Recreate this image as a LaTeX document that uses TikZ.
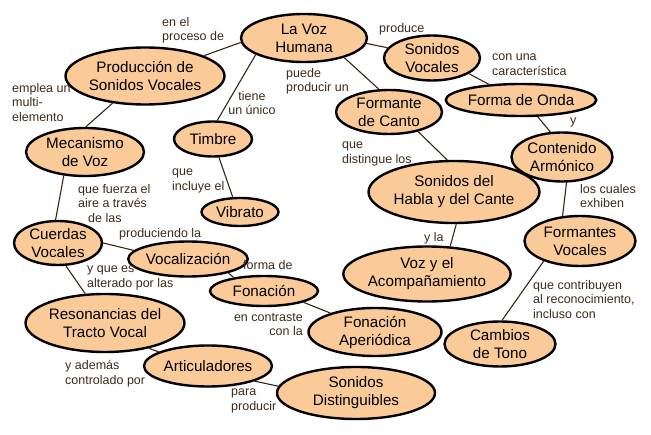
\documentclass[tikz,border=0pt]{standalone}
\usepackage{fontspec}
\setmainfont{Liberation Sans}
\usetikzlibrary{shapes.geometric}
\definecolor{cfill}{RGB}{250,202,152}
\definecolor{clink}{RGB}{55,38,22}
\definecolor{clabel}{RGB}{62,42,24}
\tikzset{
  concept/.style={ellipse, draw=black, line width=2.4pt, fill=cfill, inner sep=0pt,
    align=center, font=\fontsize{15.2}{18}\selectfont, text=black},
  lbl/.style={inner sep=0pt, text=clabel, font=\fontsize{12.5}{14.6}\selectfont,
    align=left, anchor=north west, execute at begin node=\strut, yshift=-2pt},
  link/.style={draw=clink, line width=1.1pt},
}
\begin{document}
\begin{tikzpicture}[x=1pt,y=-1pt]
\useasboundingbox (0,0) rectangle (651,435);
% concepts
\node[concept, minimum width=126pt, minimum height=48pt] (lv) at (304,38) {La Voz\\Humana};
\node[concept, minimum width=133pt, minimum height=57pt] (pr) at (145,76) {Producción de\\Sonidos Vocales};
\node[concept, minimum width=118pt, minimum height=48pt] (me) at (85,152) {Mecanismo\\de Voz};
\node[concept, minimum width=78pt, minimum height=35pt] (ti) at (213,139) {Timbre};
\node[concept, minimum width=77pt, minimum height=28pt] (vi) at (240,212) {Vibrato};
\node[concept, minimum width=96pt, minimum height=45pt] (sv) at (432,58) {Sonidos\\Vocales};
\node[concept, minimum width=106pt, minimum height=44pt] (fc) at (389,112) {Formante\\de Canto};
\node[concept, minimum width=124pt, minimum height=32pt] (fo) at (521,100) {Forma de Onda};
\node[concept, minimum width=101pt, minimum height=49pt] (ca) at (562,157) {Contenido\\Armónico};
\node[concept, minimum width=138pt, minimum height=62pt] (sh) at (454,192) {Sonidos del\\Habla y del Cante};
\node[concept, minimum width=111pt, minimum height=50pt] (fv) at (580,241) {Formantes\\Vocales};
\node[concept, minimum width=161pt, minimum height=55pt] (va) at (427,274) {Voz y el\\Acompañamiento};
\node[concept, minimum width=111pt, minimum height=45pt] (ct) at (500,344) {Cambios\\de Tono};
\node[concept, minimum width=133pt, minimum height=48pt] (fa) at (375,332) {Fonación\\Aperiódica};
\node[concept, minimum width=158pt, minimum height=52pt] (sd) at (356,393) {Sonidos\\Distinguibles};
\node[concept, minimum width=88pt, minimum height=44pt] (cv) at (58,243) {Cuerdas\\Vocales};
\node[concept, minimum width=100pt, minimum height=35pt] (vo) at (188,259) {Vocalización};
\node[concept, minimum width=108pt, minimum height=30pt] (fn) at (264,291) {Fonación};
\node[concept, minimum width=137pt, minimum height=58pt] (re) at (105,323) {Resonancias del\\Tracto Vocal};
\node[concept, minimum width=128pt, minimum height=41pt] (ar) at (208,366) {Articuladores};
% connectors
\draw[link] (lv.184.5) -- (pr.19.1);
\draw[link] (lv.199.1) -- (ti.77);
\draw[link] (lv.355.5) -- (sv.167.2);
\draw[link] (lv.334) -- (fc.114.4);
\draw[link] (pr.220.2) -- (me.88);
\draw[link] (me.228.5) -- (cv.96.8);
\draw[link] (ti.288.4) -- (vi.116.6);
\draw[link] (sv.337) -- (fo.154.1);
\draw[link] (fo.315) -- (ca.115.7);
\draw[link] (ca.280.9) -- (fv.125.8);
\draw[link] (fv.209.6) -- (ct.85.2);
\draw[link] (fc.326.7) -- (sh.102.7);
\draw[link] (sh.274.9) -- (va.50.8);
\draw[link] (cv.0) -- (vo.171.7);
\draw[link] (cv.289.8) -- (re.124.2);
\draw[link] (vo.341.6) -- (fn.156.4);
\draw[link] (fn.344.2) -- (fa.157.1);
\draw[link] (re.330.8) -- (ar.164.6);
\draw[link] (ar.342.6) -- (sd.175.7);
% linking phrases
\node[lbl] (l1) at (162,15) {en el\\proceso de};
\node[lbl] (l2) at (12,81) {emplea un\\multi-\\elemento};
\node[lbl, anchor=north, align=center] (l3) at (252,89) {tiene\\un único};
\node[lbl] (l4) at (286,66) {puede\\producir un};
\node[lbl] (l5) at (379,20) {produce};
\node[lbl] (l6) at (492,52) {con una\\característica};
\node[lbl] (l7) at (570,112) {y};
\node[lbl] (l8) at (342,140) {que\\distingue los};
\node[lbl] (l9) at (580,182) {los cuales\\exhiben};
\node[lbl] (l10) at (78,182) {que fuerza el\\aire a través\\\hspace*{10pt}de las};
\node[lbl] (l11) at (172,167) {que\\incluye el};
\node[lbl] (l12) at (424,229) {y la};
\node[lbl] (l13) at (533,278) {que contribuyen\\al reconocimiento,\\incluso con};
\node[lbl] (l14) at (119,225) {produciendo la};
\node[lbl] (l15) at (87,264) {y que es\\alterado por las};
\node[lbl] (l16) at (243,257) {forma de};
\node[lbl, anchor=north east, align=right] (l17) at (303,311) {en contraste\\con la};
\node[lbl] (l18) at (65,358) {y además\\controlado por};
\node[lbl] (l19) at (231,387) {para\\producir};
\end{tikzpicture}
\end{document}
